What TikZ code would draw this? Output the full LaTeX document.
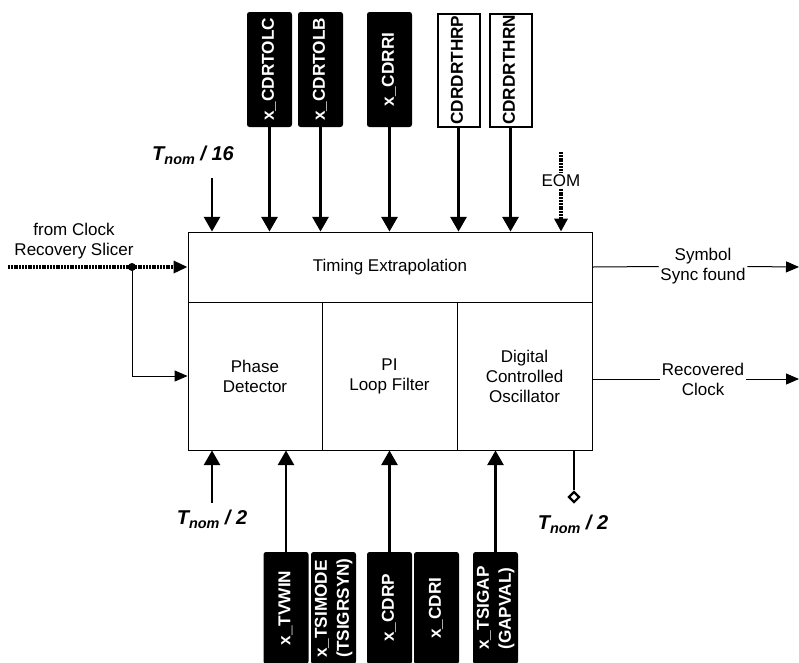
\documentclass[tikz,border=0pt]{standalone}
\usepackage{fontspec}
\setmainfont{Liberation Sans}
\usepackage{graphicx}
\usetikzlibrary{arrows.meta,shapes.geometric}
\newcommand\tnomlab[1]{{\fontsize{15}{16}\selectfont\bfseries\itshape T\raisebox{-0.35ex}{\fontsize{10.8}{12}\selectfont nom} / #1}}
\newcommand\vlab[1]{\rotatebox{90}{\begin{tabular}{@{}l@{}}#1\end{tabular}}}
\begin{document}
\begin{tikzpicture}[x=0.75pt,y=-0.75pt,
  every node/.style={font=\fontsize{12.75}{15}\selectfont},
  blockbox/.style={draw=black, line width=0.65pt, minimum height=111pt, inner sep=0pt, align=center},
  blkreg/.style={fill=black, text=white, rounded corners=1.9pt, minimum width=33.75pt, inner sep=0pt,
     font=\bfseries\fontsize{12.9}{16.5}\selectfont},
  whtreg/.style={draw=black, line width=1.5pt, fill=white, text=black, minimum width=31.5pt, inner sep=0pt,
     font=\bfseries\fontsize{12.9}{16.5}\selectfont},
  bigarrow/.style={line width=2pt, -{Triangle[length=11pt, width=12pt]}},
  thinarrow/.style={line width=0.75pt, -{Triangle[length=9.75pt, width=8.25pt]}},
  dotline/.style={line width=2.4pt, dash pattern=on 1.5pt off 0.6pt},
  lbl/.style={align=center, inner sep=1.1pt, fill=white}]
\useasboundingbox (0,0) rectangle (799,662);

% main blocks
\node[draw=black, line width=0.65pt, minimum width=303pt, minimum height=52.5pt, inner sep=0pt] (te) at (390,267) {Timing Extrapolation};
\node[blockbox, minimum width=100.5pt] (pd) at (255,376) {Phase\\Detector};
\node[blockbox, minimum width=101.25pt] (pi) at (389.5,376) {PI\\Loop Filter};
\node[blockbox, minimum width=101.25pt] (dco) at (524.5,376) {Digital\\Controlled\\Oscillator};

% top register boxes
\node[blkreg, minimum height=86.25pt] (tb1) at (269.5,69.5) {\vlab{x\_CDRTOLC}};
\node[blkreg, minimum height=86.25pt] (tb2) at (320.5,69.5) {\vlab{x\_CDRTOLB}};
\node[blkreg, minimum height=86.25pt] (tb3) at (389.5,69.5) {\vlab{x\_CDRRI}};
\node[whtreg, minimum height=84.75pt] (tb4) at (458.5,70) {\vlab{CDRDRTHRP}};
\node[whtreg, minimum height=84.75pt] (tb5) at (510.5,70) {\vlab{CDRDRTHRN}};
\foreach \n in {tb1,tb2,tb3,tb4,tb5}
  \draw[bigarrow] (\n.south) -- (\n.south |- te.north);

% T_nom/16
\node (t16) at (193,155) {\tnomlab{16}};
\coordinate (t16s) at (212,178);
\draw[bigarrow] (t16s) -- (t16s |- te.north);

% EOM
\coordinate (eomtop) at (561,152);
\node[inner sep=1.2pt] (eom) at (561,181) {EOM};
\draw[dotline] (eomtop) -- (eom.north);
\draw[dotline, -{Triangle[length=9.75pt, width=9.75pt]}] (eom.south) -- (eom.south |- te.north);

% input
\coordinate (src) at (8,267);
\node[circle, fill=black, minimum size=6pt, inner sep=0pt] (j) at (132,267) {};
\node[align=center, inner sep=0pt] (fromlbl) at (74,241) {from Clock\\Recovery Slicer};
\draw[dotline] (src) -- (j.center);
\draw[dotline, -{Triangle[length=10.5pt, width=9pt]}] (j.center) -- (te.west);
\draw[thinarrow] (j.center) |- (pd.west);

% outputs
\node[lbl] (sym) at (703,266.5) {Symbol\\Sync found};
\coordinate (symend) at (799,267);
\draw[line width=0.75pt] (te.east) -- (sym.west);
\draw[thinarrow] (sym.east) -- (symend);
\node[lbl] (rec) at (703,379) {Recovered\\Clock};
\coordinate (recend) at (799,379);
\draw[line width=0.75pt] (rec.west -| dco.east) -- (rec.west);
\draw[thinarrow] (rec.east) -- (recend);

% bottom T_nom/2 left
\node (t2a) at (212,519) {\tnomlab{2}};
\coordinate (t2as) at (212,503);
\draw[bigarrow] (t2as) -- (t2as |- pd.south);

% bottom register boxes
\node[blkreg, minimum height=84pt] (bb1) at (286,608) {\vlab{x\_TVWIN}};
\node[blkreg, minimum height=84pt] (bb2) at (333.5,608) {\vlab{x\_TSIMODE\\(TSIGRSYN)}};
\node[blkreg, minimum height=84pt] (bb3) at (389.5,608) {\vlab{x\_CDRP}};
\node[blkreg, minimum height=84pt] (bb4) at (436.5,608) {\vlab{x\_CDRI}};
\node[blkreg, minimum height=84pt] (bb5) at (495.5,608) {\vlab{x\_TSIGAP\\(GAPVAL)}};
\draw[bigarrow] (bb1.north) -- (bb1.north |- pd.south);
\draw[bigarrow] (bb3.north) -- (bb3.north |- pi.south);
\draw[bigarrow] (bb5.north) -- (bb5.north |- dco.south);

% bottom right T_nom/2 with diamond
\node[diamond, draw=black, line width=1.65pt, fill=white, minimum width=8.25pt, minimum height=8.25pt, inner sep=0pt] (dia) at (574,497) {};
\draw[line width=1.35pt] (dia.north |- dco.south) -- (dia.north);
\node (t2b) at (573,524) {\tnomlab{2}};
\end{tikzpicture}
\end{document}
